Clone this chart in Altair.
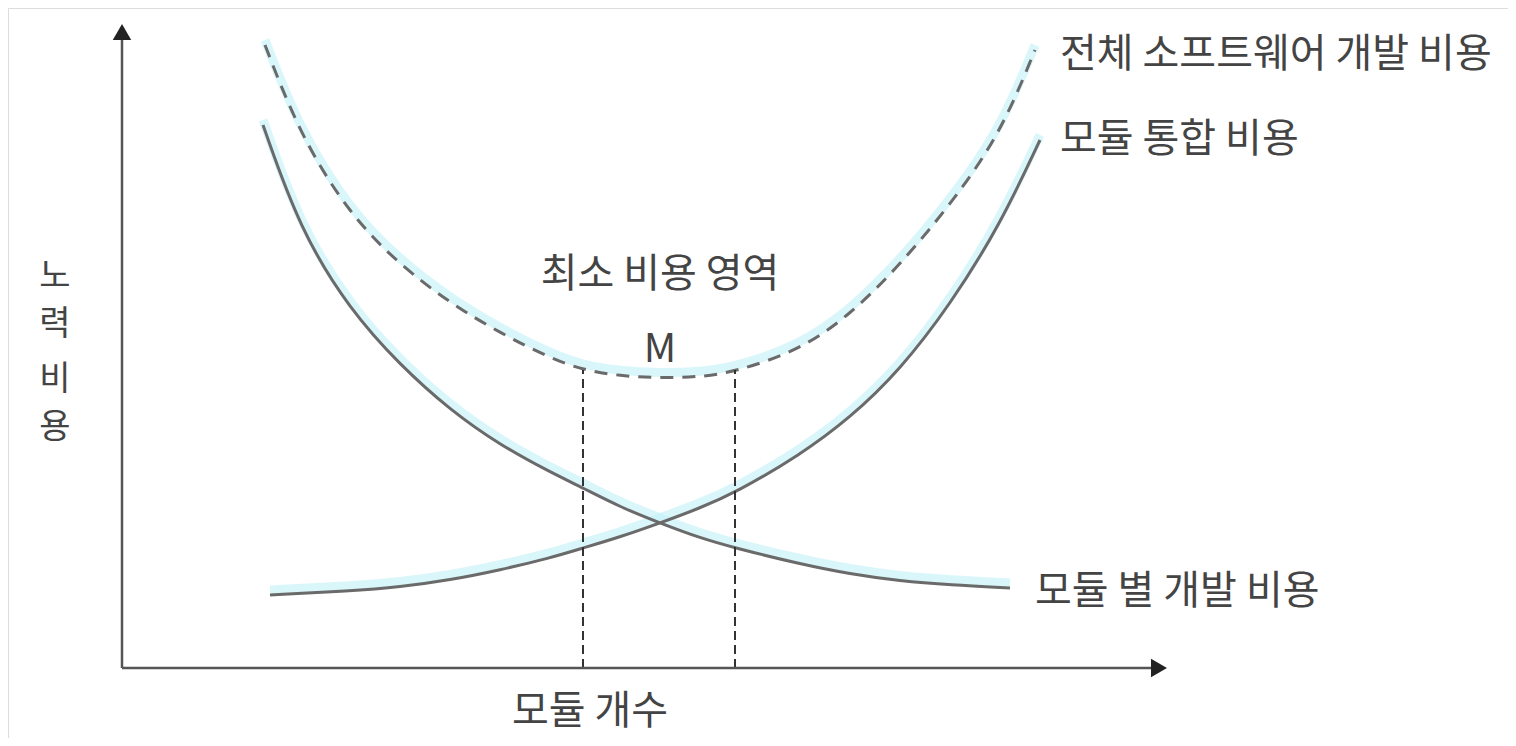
import altair as alt
import pandas as pd

# ---- data (x: module count units, y: effort/cost units) ----
dev_x = [141, 178, 228, 278, 328, 378, 428, 461, 498, 538, 578, 613, 678, 728, 778, 828, 888]
dev_y = [543, 438, 358, 303, 258, 223, 196, 180, 161, 145, 130, 120, 104, 94, 87, 83, 80]

integ_x = [148, 228, 278, 328, 378, 428, 461, 498, 538, 578, 613, 678, 728, 778, 828, 878, 918]
integ_y = [73, 77, 81, 88, 98, 110, 120, 131, 145, 160, 175, 213, 250, 298, 363, 443, 528]

total_x = [143, 178, 228, 278, 328, 378, 428, 461, 498, 538, 578, 613, 678, 728, 778, 828, 878, 913]
total_y = [623, 533, 453, 403, 365, 335, 310, 298, 292, 290, 291, 296, 318, 353, 403, 463, 533, 618]

guide_x = [461, 613]
guide_top = [298, 298]

label_text = ["전체 소프트웨어 개발 비용", "모듈 통합 비용", "모듈 별 개발 비용"]
label_x = [938, 938, 913]
label_y = [613, 528, 76]

center_text = ["최소 비용 영역", "M", "모듈 개수"]
center_x = [538, 538, 468]
center_y = [393, 318, -44]

ylab_chars = ["노", "력", "비", "용"]
ylab_y = [391, 343, 288, 240]

FONT = "Noto Sans CJK KR"
GRAY = "#6a6a6a"
GLOW = "#c4f1f8"
TXT = "#444444"
FS = 40

xs = alt.Scale(domain=[-114, 1386])
ys = alt.Scale(domain=[-70, 660])


def curve_df(xv, yv, name):
    return pd.DataFrame({"x": xv, "y": yv, "series": name})

dev = curve_df(dev_x, dev_y, "dev")
integ = curve_df(integ_x, integ_y, "integ")
total = curve_df(total_x, total_y, "total")

def enc(chart):
    return chart.encode(
        x=alt.X("x:Q", scale=xs, axis=None),
        y=alt.Y("y:Q", scale=ys, axis=None),
    )

INTERP = "basis"
layers = []
# glow under curves
for df in (dev, integ, total):
    layers.append(
        enc(alt.Chart(df).mark_line(interpolate=INTERP, color=GLOW, strokeWidth=9, opacity=0.65))
        .encode(yOffset=alt.value(-5))
    )
# solid curves
for df in (dev, integ):
    layers.append(enc(alt.Chart(df).mark_line(interpolate=INTERP, color=GRAY, strokeWidth=3)))
# dashed total
layers.append(enc(alt.Chart(total).mark_line(interpolate=INTERP, color=GRAY, strokeWidth=3,
                                             strokeDash=[13, 9])))

# vertical guide lines
guides = pd.DataFrame({"x": guide_x, "y": [0, 0], "y2": guide_top})
layers.append(
    alt.Chart(guides).mark_rule(color="#333333", strokeWidth=2, strokeDash=[9, 5]).encode(
        x=alt.X("x:Q", scale=xs, axis=None),
        y=alt.Y("y:Q", scale=ys, axis=None),
        y2="y2:Q",
    )
)

# axes lines
axes_df = pd.DataFrame({"x": [0, 0], "y": [0, 0], "x2": [0, 1035], "y2": [635, 0]})
layers.append(
    alt.Chart(axes_df).mark_rule(color="#555555", strokeWidth=2.5).encode(
        x=alt.X("x:Q", scale=xs, axis=None),
        y=alt.Y("y:Q", scale=ys, axis=None),
        x2="x2:Q",
        y2="y2:Q",
    )
)
# arrowheads
arrow_up = pd.DataFrame({"x": [0], "y": [636]})
arrow_right = pd.DataFrame({"x": [1037], "y": [0]})
layers.append(enc(alt.Chart(arrow_up).mark_point(shape="triangle-up", filled=True, color="#222222",
                                                 size=340, opacity=1)))
layers.append(enc(alt.Chart(arrow_right).mark_point(shape="triangle-right", filled=True, color="#222222",
                                                    size=340, opacity=1)))

# labels
lab = pd.DataFrame({"t": label_text, "x": label_x, "y": label_y})
layers.append(
    enc(alt.Chart(lab).mark_text(font=FONT, fontSize=FS, color=TXT, align="left", baseline="middle"))
    .encode(text="t:N")
)
cen = pd.DataFrame({"t": center_text, "x": center_x, "y": center_y})
layers.append(
    enc(alt.Chart(cen).mark_text(font=FONT, fontSize=FS, color=TXT, align="center", baseline="middle"))
    .encode(text="t:N")
)
yl = pd.DataFrame({"t": ylab_chars, "x": [-67] * 4, "y": ylab_y})
layers.append(
    enc(alt.Chart(yl).mark_text(font=FONT, fontSize=34, color=TXT, align="center", baseline="middle"))
    .encode(text="t:N")
)

chart = alt.layer(*layers).properties(
    width=1500, height=730, autosize=alt.AutoSizeParams(type="none"), padding=0
).configure_view(stroke=None).configure(background="white")

chart.save("out.html", embed_options={"renderer": "svg", "actions": False})
